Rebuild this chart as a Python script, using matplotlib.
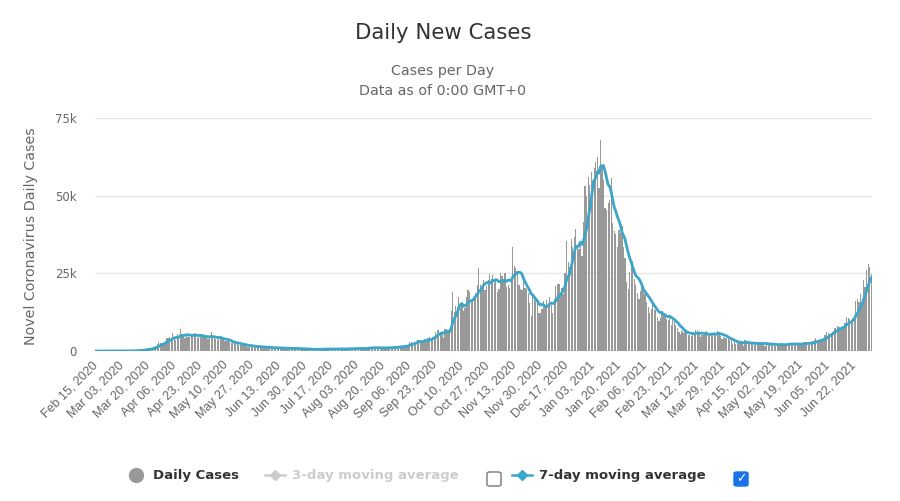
import matplotlib
matplotlib.use("Agg")
import matplotlib.pyplot as plt
from matplotlib.lines import Line2D
from matplotlib.patches import FancyBboxPatch
import numpy as np
import pandas as pd

# ---- data: UK daily new cases, Feb 15 2020 -> Jul 3 2021 ----
cases_2020_feb = [0, 0, 0, 0, 0, 0, 0, 0, 0, 4, 0, 0, 2, 5, 3]
cases_2020_mar = [12, 4, 11, 34, 30, 48, 43, 67, 48, 61, 77, 134, 208, 342, 251, 152, 407, 676, 643, 714,
                  1035, 665, 967, 1427, 1452, 2129, 2885, 2546, 2433, 2619, 3009]
cases_2020_apr = [4324, 4244, 4450, 3735, 5903, 3802, 3634, 5491, 4344, 7000, 5233, 5288, 4342, 5252, 4603,
                  4617, 5599, 5525, 5850, 4676, 4301, 4451, 4583, 5386, 4913, 4463, 4309, 3996, 4076, 6032]
cases_2020_may = [4800, 4306, 3839, 3485, 3706, 4600, 4214, 3849, 3296, 3123, 3077, 2803, 2642, 2646, 2560,
                  2450, 2334, 2084, 1912, 1972, 2015, 1959, 1809, 1325, 1543, 1504, 1513, 1487, 1595, 1088, 1236]
cases_2020_jun = [1170, 1371, 1405, 1250, 1157, 1026, 905, 1141, 903, 966, 1141, 1025, 1014, 856, 879,
                  815, 918, 946, 946, 895, 758, 821, 674, 653, 818, 880, 690, 701, 708, 589]
cases_2020_jul = [629, 576, 544, 624, 516, 352, 581, 630, 512, 642, 820, 650, 530, 598, 538, 642, 687, 827,
                  580, 560, 445, 560, 769, 767, 743, 688, 685, 581, 763, 846, 880]
cases_2020_aug = [743, 744, 938, 670, 892, 950, 871, 758, 1062, 816, 1148, 1009, 1441, 1012, 1077, 1040, 713,
                  1089, 812, 1182, 1033, 1288, 1041, 853, 1184, 1048, 1522, 1276, 1108, 1715, 1406]
cases_2020_sep = [1295, 1508, 1735, 1940, 1813, 2988, 2948, 2460, 2659, 2919, 3539, 3497, 3330, 2621, 3105,
                  3991, 3395, 4322, 4422, 3899, 4368, 4926, 6178, 6634, 6874, 6042, 5693, 4044, 7143, 7108]
cases_2020_oct = [6914, 6968, 12872, 19000, 12594, 14542, 14162, 17540, 13864, 15166, 12872, 13972, 17234,
                  19724, 18980, 15650, 16171, 16982, 18804, 21331, 26688, 21242, 20530, 23012, 19790, 20890,
                  22885, 24701, 23065, 24405, 21915]
cases_2020_nov = [23254, 18950, 20018, 25177, 24141, 23287, 24957, 20572, 21350, 20412, 22950, 33470, 27301,
                  26860, 24962, 21363, 20051, 19609, 22915, 20252, 19875, 18662, 15450, 11299, 18213, 17555,
                  16022, 15871, 12155, 12330]
cases_2020_dec = [13430, 16170, 14879, 16298, 15539, 17272, 14718, 12282, 16578, 20964, 21672, 21502, 18447,
                  20263, 18450, 25161, 35383, 28507, 27052, 35928, 33364, 36804, 39237, 32725, 32725, 34693,
                  30501, 41385, 53135, 50023, 55892]
cases_2021_jan = [53285, 57725, 54990, 58784, 60916, 62322, 52618, 68053, 59937, 54940, 46169, 45533, 47525,
                  48682, 55761, 41346, 38598, 37535, 33355, 38905, 37892, 40261, 33552, 30004, 22195, 20089,
                  25308, 28680, 29079, 23275, 21088]
cases_2021_feb = [18607, 16840, 19202, 20634, 19114, 18262, 15845, 14104, 12364, 13494, 15144, 13308, 13308,
                  10972, 9765, 10625, 12718, 12057, 12027, 10406, 9834, 10641, 8489, 9938, 9985, 8523, 7434, 6035]
cases_2021_mar = [5455, 6385, 5766, 6573, 6040, 5177, 5177, 4712, 5766, 5926, 6753, 6609, 5534, 4618, 5089,
                  5294, 5758, 6303, 4802, 5587, 5312, 5342, 5379, 5605, 6397, 6187, 4715, 3862, 4654, 4052, 4040]
cases_2021_apr = [4479, 3423, 3402, 2297, 2762, 2379, 2763, 2982, 3150, 2589, 1730, 3568, 2472, 2491, 2672,
                  2596, 2206, 1882, 2524, 2729, 2396, 2729, 2652, 2061, 1712, 2685, 1946, 2166, 2334, 2381]
cases_2021_may = [1907, 1671, 1649, 2357, 2166, 2490, 2047, 1770, 1946, 2357, 2474, 2657, 2284, 2193, 1926,
                  1979, 2027, 2412, 2696, 2874, 2829, 2235, 1979, 2439, 2493, 3180, 3542, 4182, 3398, 3240, 3383]
cases_2021_jun = [3165, 4330, 5274, 6238, 5765, 5341, 5683, 6048, 7540, 7393, 8125, 7738, 7490, 7742, 7673,
                  9055, 11007, 10476, 10321, 9284, 10633, 11625, 16135, 16703, 15810, 18270, 14876, 22868,
                  20479, 26068]
cases_2021_jul = [27989, 27125, 24885]

tick_labels = ["Feb 15, 2020", "Mar 03, 2020", "Mar 20, 2020", "Apr 06, 2020", "Apr 23, 2020",
               "May 10, 2020", "May 27, 2020", "Jun 13, 2020", "Jun 30, 2020", "Jul 17, 2020",
               "Aug 03, 2020", "Aug 20, 2020", "Sep 06, 2020", "Sep 23, 2020", "Oct 10, 2020",
               "Oct 27, 2020", "Nov 13, 2020", "Nov 30, 2020", "Dec 17, 2020", "Jan 03, 2021",
               "Jan 20, 2021", "Feb 06, 2021", "Feb 23, 2021", "Mar 12, 2021", "Mar 29, 2021",
               "Apr 15, 2021", "May 02, 2021", "May 19, 2021", "Jun 05, 2021", "Jun 22, 2021"]
y_ticks = [0, 25000, 50000, 75000]
y_tick_labels = ["0", "25k", "50k", "75k"]

daily = np.array(cases_2020_feb + cases_2020_mar + cases_2020_apr + cases_2020_may + cases_2020_jun +
                 cases_2020_jul + cases_2020_aug + cases_2020_sep + cases_2020_oct + cases_2020_nov +
                 cases_2020_dec + cases_2021_jan + cases_2021_feb + cases_2021_mar + cases_2021_apr +
                 cases_2021_may + cases_2021_jun + cases_2021_jul, dtype=float)
dates = pd.date_range("2020-02-15", periods=len(daily), freq="D")
ma7 = pd.Series(daily).rolling(7, min_periods=1).mean().values
x = np.arange(len(daily))

W, H = 900, 501
plt.rcParams["font.family"] = ["DejaVu Sans"]
fig = plt.figure(figsize=(W / 100, H / 100), dpi=100)
fig.patch.set_facecolor("white")

def fx(px):
    return px / W

def fy(py):
    return 1 - py / H

left, right, top, bottom = 95, 872, 118, 351
ax = fig.add_axes([fx(left), fy(bottom), fx(right) - fx(left), fy(top) - fy(bottom)])
ax.set_xlim(-0.5, len(daily) - 0.5)
ax.set_ylim(0, 75000)
for s in ax.spines.values():
    s.set_visible(False)
for yv in y_ticks:
    ax.axhline(yv, color="#e6e6e6", lw=1.0, zorder=0)

ax.bar(x, daily, width=0.8, color="#999999", linewidth=0, zorder=2)
ax.plot(x, ma7, color="#3ca6c9", lw=2.0, zorder=3, solid_joinstyle="round")

ax.set_yticks(y_ticks)
ax.set_yticklabels(y_tick_labels)
ax.tick_params(axis="y", length=0, pad=13, labelsize=8.5, labelcolor="#666666")
tick_pos = np.arange(0, len(daily), 17)[:len(tick_labels)]
ax.set_xticks(tick_pos)
ax.set_xticklabels(tick_labels, rotation=45, ha="right", va="center", rotation_mode="anchor",
                   family=["Liberation Sans", "DejaVu Sans"])
ax.tick_params(axis="x", length=0, pad=9, labelsize=9, labelcolor="#666666")

# titles
fig.text(fx(443), fy(33), "Daily New Cases", ha="center", va="center", fontsize=15.3, color="#333333")
fig.text(fx(443), fy(71), "Cases per Day", ha="center", va="center", fontsize=10.3, color="#666666")
fig.text(fx(443), fy(91), "Data as of 0:00 GMT+0", ha="center", va="center", fontsize=10.3, color="#666666")
fig.text(fx(31), fy(236), "Novel Coronavirus Daily Cases", rotation=90, ha="center", va="center",
         fontsize=10.3, color="#666666")

# legend
ly = 475
fig.add_artist(Line2D([fx(136)], [fy(ly)], marker="o", markersize=10, color="#999999", transform=fig.transFigure))
fig.text(fx(153), fy(ly), "Daily Cases", ha="left", va="center", fontsize=9.5, fontweight="bold", color="#333333")
fig.add_artist(Line2D([fx(265), fx(285)], [fy(ly), fy(ly)], color="#cccccc", lw=1.8, transform=fig.transFigure))
fig.add_artist(Line2D([fx(275)], [fy(ly)], marker="D", markersize=5, color="#cccccc", transform=fig.transFigure))
fig.text(fx(292), fy(ly), "3-day moving average", ha="left", va="center", fontsize=9.5, fontweight="bold",
         color="#cccccc")
fig.add_artist(FancyBboxPatch((fx(487), fy(486)), fx(14), 14 / H, boxstyle="round,pad=0,rounding_size=0.003",
                              transform=fig.transFigure, facecolor="white", edgecolor="#777777", lw=1))
fig.add_artist(Line2D([fx(512), fx(532)], [fy(ly), fy(ly)], color="#3ca6c9", lw=1.8, transform=fig.transFigure))
fig.add_artist(Line2D([fx(522)], [fy(ly)], marker="D", markersize=5, color="#3ca6c9", transform=fig.transFigure))
fig.text(fx(539), fy(ly), "7-day moving average", ha="left", va="center", fontsize=9.5, fontweight="bold",
         color="#333333")
fig.add_artist(FancyBboxPatch((fx(734), fy(486)), fx(14), 14 / H, boxstyle="round,pad=0,rounding_size=0.003",
                              transform=fig.transFigure, facecolor="#1a73e8", edgecolor="#1a73e8", lw=1))
fig.text(fx(741), fy(479), "\u2713", ha="center", va="center", fontsize=9, fontweight="bold", color="white")

fig.savefig("out.png", dpi=100, facecolor="white")
